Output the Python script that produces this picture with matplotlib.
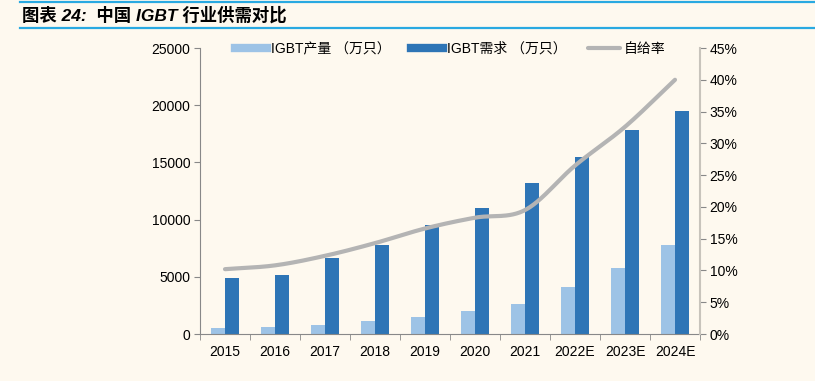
import numpy as np
import matplotlib
matplotlib.use("Agg")
import matplotlib.pyplot as plt
from matplotlib.lines import Line2D

plt.rcParams['font.family'] = ['Liberation Sans', 'Noto Sans CJK SC', 'DejaVu Sans']

categories = ['2015', '2016', '2017', '2018', '2019', '2020', '2021', '2022E', '2023E', '2024E']
production = [500, 600, 800, 1100, 1500, 2000, 2600, 4100, 5800, 7800]
demand = [4900, 5200, 6600, 7800, 9500, 11000, 13200, 15500, 17800, 19500]
self_rate = [10.2, 10.8, 12.3, 14.3, 16.6, 18.3, 19.5, 26.5, 32.6, 40.0]
left_ticks = [0, 5000, 10000, 15000, 20000, 25000]
right_ticks = [0, 5, 10, 15, 20, 25, 30, 35, 40, 45]

BG = '#FEF9EF'
C_PROD = '#9DC3E6'
C_DEM = '#2E75B6'
C_LINE = '#B4B4B4'


def catmull_rom(x, y, n=30):
    x = np.asarray(x, float)
    y = np.asarray(y, float)
    px = np.concatenate([[2 * x[0] - x[1]], x, [2 * x[-1] - x[-2]]])
    py = np.concatenate([[2 * y[0] - y[1]], y, [2 * y[-1] - y[-2]]])
    xs, ys = [], []
    t = np.linspace(0, 1, n)
    for i in range(1, len(px) - 2):
        p0, p1, p2, p3 = py[i - 1], py[i], py[i + 1], py[i + 2]
        q0, q1, q2, q3 = px[i - 1], px[i], px[i + 1], px[i + 2]
        f = lambda a0, a1, a2, a3: 0.5 * ((2 * a1) + (-a0 + a2) * t + (2 * a0 - 5 * a1 + 4 * a2 - a3) * t ** 2 + (-a0 + 3 * a1 - 3 * a2 + a3) * t ** 3)
        xs.append(f(q0, q1, q2, q3))
        ys.append(f(p0, p1, p2, p3))
    return np.concatenate(xs), np.concatenate(ys)


fig = plt.figure(figsize=(8.15, 3.81), dpi=100, facecolor=BG)

# title band
fig.add_artist(Line2D([20 / 815, 1], [1 - 2 / 381, 1 - 2 / 381], color='#29A9E1', lw=1.6))
fig.add_artist(Line2D([20 / 815, 1], [1 - 28 / 381, 1 - 28 / 381], color='#29A9E1', lw=1.6))
fig.text(22 / 815, 1 - 15 / 381, '图表 24:  中国 IGBT 行业供需对比', fontsize=12.5, fontweight='bold',
         fontstyle='italic', va='center', ha='left', color='black',
         family=['Liberation Sans', 'Noto Sans CJK SC'])

ax = fig.add_axes([200 / 815, 1 - 334 / 381, 500 / 815, 286 / 381])
ax.set_facecolor(BG)
x = np.arange(len(categories))
w = 0.28
ax.bar(x - w / 2, production, width=w, color=C_PROD, label='IGBT产量（万只）', zorder=2)
ax.bar(x + w / 2, demand, width=w, color=C_DEM, label='IGBT需求（万只）', zorder=2)
ax.set_xlim(-0.5, len(categories) - 0.5)
ax.set_ylim(0, 25000)
ax.set_yticks(left_ticks)
ax.set_yticklabels([str(v) for v in left_ticks], fontsize=10)
ax.set_xticks(x)
ax.set_xticklabels(categories, fontsize=10)
ax.set_xticks(np.arange(-0.5, len(categories) + 0.5, 1), minor=True)
ax.tick_params(axis='x', which='major', length=0, pad=8)
ax.tick_params(axis='x', which='minor', length=4, color='#888888', direction='out')
ax.tick_params(axis='y', length=4, color='#888888', pad=3)
for s in ['top', 'right']:
    ax.spines[s].set_visible(False)
ax.spines['left'].set_color('#888888')
ax.spines['bottom'].set_color('#888888')

ax2 = ax.twinx()
sx, sy = catmull_rom(x, self_rate)
ax2.plot(sx, sy, color=C_LINE, lw=3, solid_capstyle='round', zorder=3, label='自给率')
ax2.set_ylim(0, 45)
ax2.set_yticks(right_ticks)
ax2.set_yticklabels([f'{v}%' for v in right_ticks], fontsize=10)
ax2.tick_params(axis='y', length=4, color='#888888', pad=3)
for s in ['top', 'left', 'bottom']:
    ax2.spines[s].set_visible(False)
ax2.spines['right'].set_color('#C8C4BC')
ax2.spines['right'].set_linewidth(1.5)

handles = [Line2D([0], [0], color=C_PROD, lw=6),
           Line2D([0], [0], color=C_DEM, lw=6),
           Line2D([0], [0], color=C_LINE, lw=3, solid_capstyle='round')]
labels = ['IGBT产量 （万只）', 'IGBT需求 （万只）', '自给率']
ax2.legend(handles, labels, loc='upper center', bbox_to_anchor=(0.5, 1.065), ncol=3, frameon=False,
           handlelength=2.3, columnspacing=1.5, handletextpad=0.3,
           prop={'family': ['Liberation Sans', 'Noto Sans CJK SC'], 'size': 10})

fig.savefig('out.png', dpi=100, facecolor=BG)
